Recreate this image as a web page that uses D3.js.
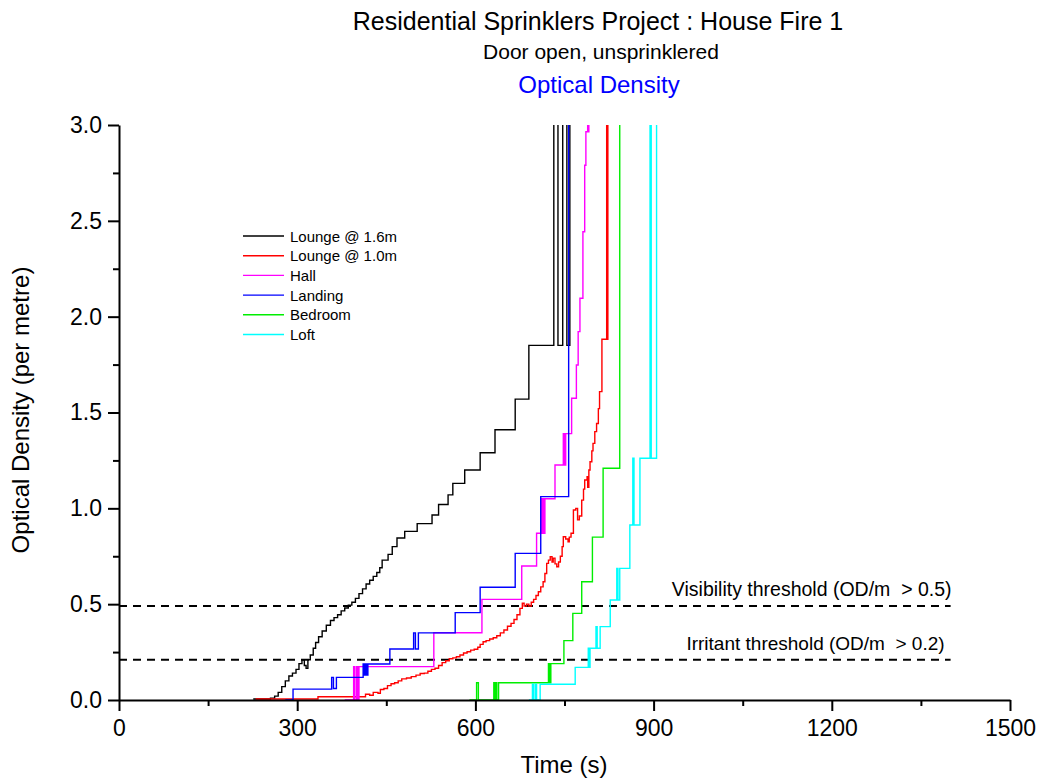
<!DOCTYPE html>
<html><head><meta charset="utf-8">
<script src="https://cdn.jsdelivr.net/npm/d3@7"></script>
<style>
body{margin:0;background:#fff}
svg{display:block}
text{font-family:Arial,"Liberation Sans",Helvetica,sans-serif;fill:#000}
</style>
</head><body>
<svg id="chart" width="1048" height="783"></svg>
<script>
// ---------- data (time in s, optical density per metre) ----------
const seriesNames = ["Lounge @ 1.6m","Lounge @ 1.0m","Hall","Landing","Bedroom","Loft"];
const seriesColors = ["#000000","#ff0000","#ff00ff","#0000ff","#00ee00","#00ffff"];

const lounge16 = [[226,0.005],[240,0.005],[255,0.01],[262,0.02],[268,0.04],[274,0.07],[280,0.10],[286,0.125],[292,0.14],[298,0.16],[303,0.19],[308,0.21],[312,0.18],[315,0.165],[318,0.21],[322,0.235],[327,0.27],[331,0.30],[336,0.33],[342,0.36],[349,0.39],[356,0.415],[362,0.43],[368,0.445],[374,0.465],[380,0.48],[386,0.495],[392,0.51],[398,0.53],[404,0.555],[410,0.58],[416,0.605],[422,0.625],[428,0.645],[434,0.665],[439,0.69],[443,0.73],[453,0.76],[460,0.80],[468,0.845],[481,0.88],[502,0.92],[527,0.965],[538,1.02],[554,1.07],[562,1.13],[582,1.20],[608,1.29],[633,1.41],[667,1.57],[690,1.85],[732,3.2],[739,1.85],[747,3.2],[754,1.85],[759,3.2]];

const lounge10 = [[230,0.005],[335,0.017],[408,0.017],[415,0.03],[422,0.025],[428,0.04],[436,0.035],[440,0.055],[446,0.06],[452,0.075],[458,0.085],[464,0.09],[470,0.1],[476,0.11],[484,0.115],[492,0.122],[500,0.13],[507,0.138],[514,0.14],[520,0.15],[526,0.16],[532,0.166],[538,0.18],[544,0.195],[550,0.205],[556,0.215],[562,0.22],[568,0.226],[574,0.235],[580,0.245],[586,0.252],[592,0.26],[598,0.265],[604,0.275],[608,0.29],[613,0.304],[618,0.31],[624,0.318],[630,0.325],[636,0.335],[642,0.35],[648,0.365],[654,0.385],[660,0.4],[665,0.42],[670,0.445],[675,0.478],[679,0.505],[682,0.49],[686,0.5],[690,0.49],[694,0.51],[698,0.525],[702,0.545],[706,0.565],[710,0.59],[714,0.617],[717,0.66],[720,0.713],[723,0.73],[726,0.748],[729,0.72],[731,0.74],[734,0.71],[737,0.695],[740,0.72],[743,0.75],[746,0.8],[748,0.852],[752,0.84],[756,0.826],[758,0.85],[761,0.87],[765,0.991],[769,1.0],[772,0.94],[775,0.96],[779,1.043],[782,1.1],[784,1.148],[788,1.165],[789,1.11],[791,1.2],[793,1.243],[796,1.3],[798,1.339],[801,1.4],[804,1.443],[807,1.52],[809,1.609],[813,1.882],[821,3.2],[822,1.882],[823,3.2]];

const hall = [[380,0],[395,0.174],[397,0],[400,0.174],[402,0],[404,0.174],[530,0.351],[611,0.525],[678,0.699],[703,0.87],[711,1.05],[713,0.87],[715,1.05],[716,0.87],[717,1.05],[734,1.226],[748,1.39],[749,1.226],[750,1.39],[751,1.226],[752,1.39],[762,1.574],[770,1.748],[773,1.922],[776,2.096],[781,2.443],[784,2.79],[786,2.965],[789,3.2],[790,2.965],[791,3.2]];

const landing = [[280,0],[293,0.057],[358,0.118],[361,0.06],[366,0.118],[411,0.188],[413,0.13],[415,0.188],[417,0.13],[419,0.188],[456,0.266],[496,0.35],[499,0.266],[504,0.35],[566,0.456],[608,0.588],[667,0.765],[710,1.061],[757,3.2]];

const bedroom = [[590,0],[602,0.09],[605,0],[631,0.09],[633,0],[635,0.09],[636,0],[639,0.09],[723,0.19],[725,0.09],[727,0.19],[749,0.31],[764,0.452],[779,0.617],[797,0.85],[815,1.209],[843,3.2]];

const loft = [[690,0],[696,0.082],[698,0],[701,0.082],[703,0],[709,0.082],[768,0.17],[790,0.27],[791,0.17],[793,0.27],[803,0.383],[805,0.27],[810,0.383],[827,0.522],[838,0.687],[840,0.522],[843,0.687],[860,0.913],[865,1.261],[867,0.913],[877,1.261],[894,3.2],[896,1.261],[905,3.2]];

const seriesData = [lounge16, lounge10, hall, landing, bedroom, loft];

const xTicks = [0,300,600,900,1200,1500];
const xMinor = [150,450,750,1050,1350];
const yTicks = [0,0.5,1.0,1.5,2.0,2.5,3.0];
const yMinor = [0.25,0.75,1.25,1.75,2.25,2.75];
const thresholdValues = [0.49, 0.21];
const thresholdEnd = 1400;
const thresholdLabels = ["Visibility threshold (OD/m  > 0.5)", "Irritant threshold (OD/m  > 0.2)"];

// ---------- drawing ----------
const svg = d3.select("#chart");
const L = 119, R = 1010, T = 125, B = 700;
const x = d3.scaleLinear().domain([0,1500]).range([L,R]);
const y = d3.scaleLinear().domain([0,3]).range([B,T]);

svg.append("defs").append("clipPath").attr("id","plot")
  .append("rect").attr("x",L).attr("y",T).attr("width",R-L).attr("height",B-T+1);

// titles
svg.append("text").attr("x",598).attr("y",30).attr("text-anchor","middle")
  .style("font-size","25px").text("Residential Sprinklers Project : House Fire 1");
svg.append("text").attr("x",601).attr("y",59).attr("text-anchor","middle")
  .style("font-size","21px").text("Door open, unsprinklered");
svg.append("text").attr("x",599).attr("y",93).attr("text-anchor","middle")
  .style("font-size","24px").style("fill","#0000ff").text("Optical Density");

// threshold lines
thresholdValues.forEach((v,i)=>{
  svg.append("line").attr("x1",x(0)).attr("x2",x(thresholdEnd)).attr("y1",y(v)).attr("y2",y(v))
    .attr("stroke","#000").attr("stroke-width",2).attr("stroke-dasharray","8,6");
});
svg.append("text").attr("x",x(thresholdEnd)+1).attr("y",y(thresholdValues[0])-10).attr("text-anchor","end")
  .attr("xml:space","preserve").style("white-space","pre")
  .style("font-size","19.5px").text(thresholdLabels[0]);
svg.append("text").attr("x",x(thresholdEnd)-6).attr("y",y(thresholdValues[1])-10).attr("text-anchor","end")
  .attr("xml:space","preserve").style("white-space","pre")
  .style("font-size","19px").text(thresholdLabels[1]);

// series
const line = d3.line().x(d=>x(d[0])).y(d=>y(d[1])).curve(d3.curveStepAfter);
const g = svg.append("g").attr("clip-path","url(#plot)");
seriesData.forEach((s,i)=>{
  g.append("path").datum(s).attr("d",line).attr("fill","none")
    .attr("stroke",seriesColors[i]).attr("stroke-width",1.4);
});

// axes
const xAxis = svg.append("g").attr("transform",`translate(0,${B})`)
  .call(d3.axisBottom(x).tickValues(xTicks).tickSize(11).tickSizeOuter(0).tickPadding(9).tickFormat(d3.format("d")));
const xAxisMinor = svg.append("g").attr("transform",`translate(0,${B})`)
  .call(d3.axisBottom(x).tickValues(xMinor).tickSize(6).tickSizeOuter(0).tickFormat(""));
xAxisMinor.select(".domain").remove();
const yAxis = svg.append("g").attr("transform",`translate(${L},0)`)
  .call(d3.axisLeft(y).tickValues(yTicks).tickSize(11).tickSizeOuter(0).tickPadding(6).tickFormat(d3.format(".1f")));
const yAxisMinor = svg.append("g").attr("transform",`translate(${L},0)`)
  .call(d3.axisLeft(y).tickValues(yMinor).tickSize(6).tickSizeOuter(0).tickFormat(""));
yAxisMinor.select(".domain").remove();
svg.selectAll(".domain, .tick line").attr("stroke","#000").attr("stroke-width",2);
svg.selectAll(".tick text").style("font-size","23px").style("font-family","Arial, 'Liberation Sans', sans-serif").attr("fill","#000");

// axis titles
svg.append("text").attr("x",564).attr("y",773).attr("text-anchor","middle")
  .style("font-size","24px").text("Time (s)");
svg.append("text").attr("transform","translate(29,410) rotate(-90)").attr("text-anchor","middle")
  .style("font-size","24px").text("Optical Density (per metre)");

// legend
const lg = svg.append("g");
seriesNames.forEach((n,i)=>{
  const yy = 236 + i*19.7;
  lg.append("line").attr("x1",243).attr("x2",284).attr("y1",yy).attr("y2",yy)
    .attr("stroke",seriesColors[i]).attr("stroke-width",1.4);
  lg.append("text").attr("x",290).attr("y",yy+5.5).style("font-size","15px").text(n);
});
</script>
</body></html>
